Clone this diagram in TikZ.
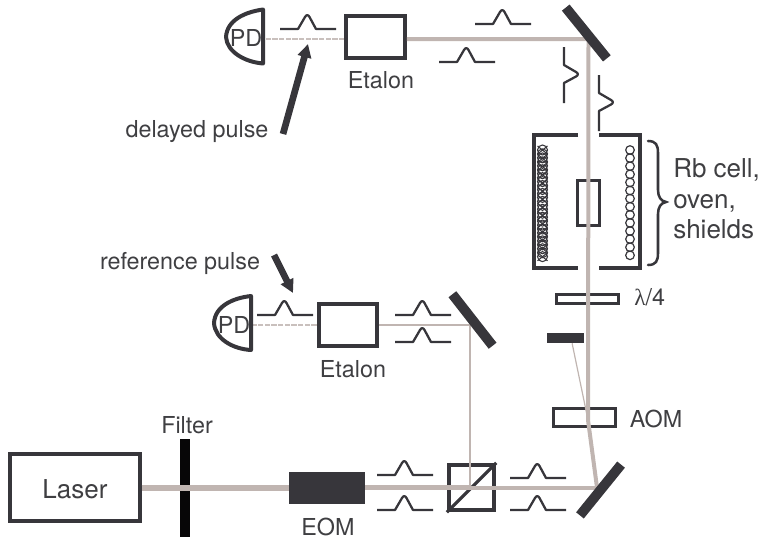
\documentclass[tikz,border=0pt]{standalone}
\usepackage{fontspec}
\setmainfont{TeX Gyre Heros}
\newfontfamily\symfont{Liberation Serif}
\usetikzlibrary{decorations.pathreplacing,arrows.meta}
\definecolor{ink}{HTML}{37363B}
\definecolor{beamc}{HTML}{C0B5B1}
\definecolor{txt}{HTML}{3F3F42}
\tikzset{
  x=0.75pt,y=-0.75pt,
  label text/.style={text=txt,font=\fontsize{17.5pt}{23pt}\selectfont,inner sep=0pt,anchor=base},
  big text/.style={label text,font=\fontsize{19.5pt}{23pt}\selectfont},
  box/.style={draw=ink,line width=3pt,fill=white,inner sep=0pt},
  thinbox/.style={draw=ink,line width=1.9pt,inner sep=0pt},
  solid block/.style={fill=ink,inner sep=0pt},
  mirror/.style={fill=ink,inner sep=0pt,minimum width=49pt,minimum height=7.4pt},
  beam/.style={draw=beamc,line width=#1},
  beam/.default=3pt,
  dashbeam/.style={draw=beamc!85!white,line width=2.1pt,dash pattern=on 4pt off 1pt},
  pulseline/.style={draw=ink,line width=1.7pt,line join=round},
  wall/.style={draw=ink,line width=3.4pt},
  pointer/.style={draw=ink,line width=5pt,-{Triangle[length=10pt,width=10pt]}},
  pics/pulse/.style={code={
    \draw[pulseline] (0,0) -- (18,0) -- (25,-12) .. controls (26.5,-14.5) and (28,-14.5) .. (29.5,-12) -- (36,0) -- (56,0);
  }},
}
\begin{document}
\begin{tikzpicture}
\useasboundingbox (0,0) rectangle (759,539);

% --- components under the beams
\node[solid block,fill=black!88!ink,minimum width=7.5pt,minimum height=73.5pt] (filter) at (185,488) {};
\node[thinbox,line width=2.3pt,minimum width=46.5pt,minimum height=6.5pt] (qwp) at (587.5,299) {};
\node[thinbox,line width=2.8pt,minimum width=46.5pt,minimum height=13.5pt] (aom) at (584.5,417.5) {};
\node[thinbox,minimum width=16.5pt,minimum height=33.5pt] (cell) at (588.5,203) {};
\node[box,fill=none,minimum width=34pt,minimum height=34pt] (cube) at (471.5,487.5) {};
\draw[draw=ink,line width=2.4pt] (cube.south west) -- (cube.north east);

% --- coordinates of the beam path
\coordinate (c1) at (470,325);
\coordinate (c2) at (597,487.5);
\coordinate (c3) at (588,420);
\coordinate (c4) at (588.5,39);
\coordinate (pdin1) at (264,39);
\coordinate (pdin2) at (253,325);

% --- boxes
\node[box,minimum width=97pt,minimum height=50pt] (laser) at (75,487.5) {};
\node[solid block,minimum width=57pt,minimum height=24pt] (eom) at (327,487.5) {};
\node[box,minimum width=44pt,minimum height=31.5pt] (et1) at (375.5,37) {};
\node[box,minimum width=44pt,minimum height=31.5pt] (et2) at (348,325) {};
\node[solid block,minimum width=27.5pt,minimum height=7.5pt] (dump) at (565.5,338) {};

% --- beams
\draw[beam=4.5pt] (laser.east) -- (eom.west);
\draw[beam=4pt] (eom.east) -- (c1 |- eom);
\draw[beam=3pt] (c1 |- eom) -- (c2);
\draw[beam=2.2pt] (c1 |- eom) -- (c1);
\draw[beam=2.2pt] (c1) -- (et2.east);
\draw[beam=3pt,line join=round] (c2) -- (c3) -- (c4) -- (c4 -| et1.east);
\draw[beam=0.9pt] (dump.south east) ++(-12,0) coordinate (d1) -- (c3);
\draw[dashbeam] (pdin1 -| et1.west) -- (pdin1);
\draw[dashbeam] (et2.west) -- (pdin2);

% --- mirrors
\node[mirror,rotate=-51] (m1) at (586.3,33) {};
\node[mirror,rotate=-52] (m2) at (472.5,320) {};
\node[mirror,rotate=51] (m3) at (600.5,490) {};

% --- photodiodes
\draw[draw=ink,line width=3pt,line join=round] (263,9.5) .. controls (245,12) and (227,20) .. (226,37) .. controls (227,52) and (245,62) .. (263,63.5) -- cycle;
\node[label text] (pd1) at (246,46) {PD};
\draw[draw=ink,line width=3pt,line join=round] (251,296) .. controls (233,298) and (215,306) .. (214,323) .. controls (215,339) and (233,349) .. (251,350) -- cycle;
\node[label text] (pd2) at (234,333) {PD};

% --- pulses
\pic at (280,29) {pulse};
\pic at (475,24) {pulse};
\pic at (439,62) {pulse};
\pic at (257,315) {pulse};
\pic at (395,315) {pulse};
\pic at (395,342) {pulse};
\pic at (377,475) {pulse};
\pic at (377,510) {pulse};
\pic at (510,478) {pulse};
\pic at (510,510) {pulse};
\pic[rotate=-90] at (564,47) {pulse};
\pic[rotate=-90] at (599,75) {pulse};

% --- oven walls
\draw[wall] (578,135) -- (534,135) -- (534,268) -- (578,268);
\draw[wall] (599,135) -- (640,135) -- (640,268) -- (599,268);

% --- heater coils
\foreach \i in {0,...,13}{
  \draw[ink,line width=0.9pt] (630,150+\i*8.1) circle (4.3);
}
\foreach \i in {0,...,27}{
  \draw[ink,line width=0.8pt] (542.5,150+\i*3.95) circle (5);
}
\foreach \i in {0,...,13}{
  \draw[ink,line width=0.8pt] (537.5,146+\i*8.2) -- (547.5,154.2+\i*8.2) (547.5,146+\i*8.2) -- (537.5,154.2+\i*8.2);
}

% --- brace
\draw[draw=ink,line width=1.9pt,line cap=round]
  (648,141) .. controls (656,141) and (658,145) .. (658,153) -- (658,190)
  .. controls (658,197) and (661,201) .. (666,202)
  .. controls (661,203) and (658,207) .. (658,214) -- (658,253)
  .. controls (658,261) and (656,265) .. (648,265);

% --- pointers
\coordinate (p1a) at (283,134);
\coordinate (p1b) at (308,44);
\coordinate (p2a) at (274,255);
\coordinate (p2b) at (293,293);
\draw[pointer] (p1a) -- (p1b);
\draw[pointer] (p2a) -- (p2b);

% --- labels
\node[big text] at (75,498) {Laser};
\node[label text] at (187,433) {Filter};
\node[label text] at (328,535.5) {EOM};
\node[label text] at (381,88) {Etalon};
\node[label text] at (353,377) {Etalon};
\node[label text] at (197,137) {delayed pulse};
\node[label text] at (180,269) {reference pulse};
\node[label text] at (656,427) {AOM};
\node[label text,anchor=base west] at (634,305) {{\symfont λ}/4};
\node[big text,anchor=base west] at (673,177) {Rb cell,};
\node[big text,anchor=base west] at (673,208) {oven,};
\node[big text,anchor=base west] at (673,238) {shields};
\end{tikzpicture}
\end{document}
